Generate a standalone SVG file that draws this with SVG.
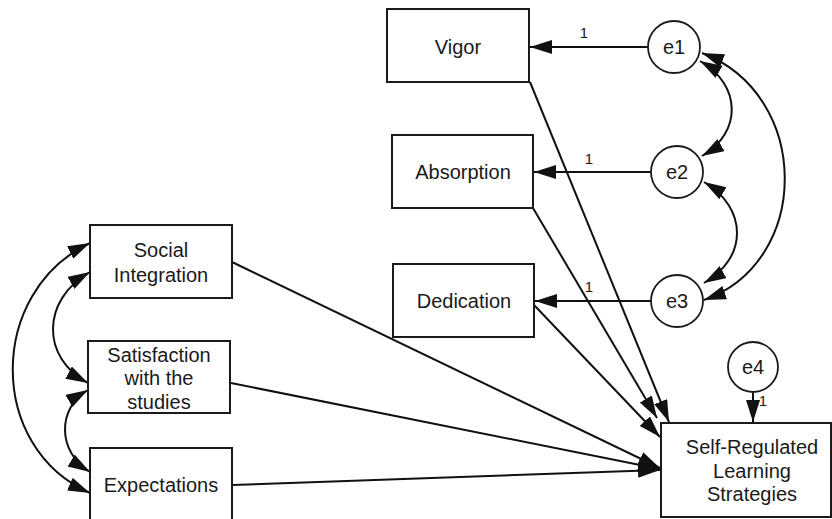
<svg xmlns="http://www.w3.org/2000/svg" width="832" height="519" viewBox="0 0 832 519">
<style>
.box{fill:#fff;stroke:#1a1a1a;stroke-width:2}
.circ{fill:#fff;stroke:#1a1a1a;stroke-width:1.8}
.t{font-family:"Liberation Sans",Arial,sans-serif;font-size:20px;fill:#1a1a1a;text-anchor:middle}
.lbl{font-family:"Liberation Sans",Arial,sans-serif;font-size:15px;fill:#1a1a1a;text-anchor:middle}
.c{fill:none;stroke:#111;stroke-width:2}
</style>
<defs>
<marker id="ah" markerUnits="userSpaceOnUse" markerWidth="24" markerHeight="16" refX="22" refY="7" orient="auto-start-reverse" viewBox="0 0 24 16">
<path d="M0,0 L22,7 L0,14 z" fill="#111"/>
</marker>
</defs>
<rect width="832" height="519" fill="#fff"/>
<g id="connectors">
<line class="c" x1="648" y1="47" x2="530" y2="47" marker-end="url(#ah)"/>
<line class="c" x1="651" y1="172" x2="534" y2="172" marker-end="url(#ah)"/>
<line class="c" x1="651" y1="301" x2="535" y2="301" marker-end="url(#ah)"/>
<line class="c" x1="753" y1="393" x2="753" y2="422" marker-end="url(#ah)"/>
<line class="c" x1="530" y1="82" x2="669" y2="422" marker-end="url(#ah)"/>
<line class="c" x1="533" y1="208" x2="657" y2="418" marker-end="url(#ah)"/>
<line class="c" x1="534" y1="305" x2="660" y2="437" marker-end="url(#ah)"/>
<line class="c" x1="232" y1="262" x2="660" y2="468" marker-end="url(#ah)"/>
<line class="c" x1="231" y1="383" x2="660" y2="469" marker-end="url(#ah)"/>
<line class="c" x1="232" y1="485" x2="660" y2="470" marker-end="url(#ah)"/>
<path class="c" d="M700,61 C742,85 742,133 702,156" marker-start="url(#ah)" marker-end="url(#ah)"/>
<path class="c" d="M704,182 C748,208 748,258 704,283" marker-start="url(#ah)" marker-end="url(#ah)"/>
<path class="c" d="M702,53 C812,95 812,262 704,300" marker-start="url(#ah)" marker-end="url(#ah)"/>
<path class="c" d="M90,243 C-13,292 -13,448 90,493" marker-start="url(#ah)" marker-end="url(#ah)"/>
<path class="c" d="M90,272 C41,300 41,358 88,383" marker-start="url(#ah)" marker-end="url(#ah)"/>
<path class="c" d="M88,390 C57,408 57,452 90,472" marker-start="url(#ah)" marker-end="url(#ah)"/>
<text class="lbl" x="584" y="38">1</text>
<text class="lbl" x="589" y="164">1</text>
<text class="lbl" x="589" y="292">1</text>
<text class="lbl" x="763" y="406">1</text>
</g>
<g id="vigor"><rect class="box" x="387" y="9" width="142" height="73"/><text class="t" x="458" y="54">Vigor</text></g>
<g id="absorption"><rect class="box" x="392" y="135" width="141" height="73"/><text class="t" x="463" y="179">Absorption</text></g>
<g id="dedication"><rect class="box" x="393" y="264" width="141" height="73"/><text class="t" x="464" y="308">Dedication</text></g>
<g id="social"><rect class="box" x="90" y="225" width="142" height="73"/><text class="t" x="161" y="257">Social</text><text class="t" x="161" y="282">Integration</text></g>
<g id="satisfaction"><rect class="box" x="88" y="341" width="142" height="72"/><text class="t" x="159" y="362">Satisfaction</text><text class="t" x="159" y="385">with the</text><text class="t" x="159" y="409">studies</text></g>
<g id="expectations"><rect class="box" x="90" y="448" width="142" height="75"/><text class="t" x="161" y="492">Expectations</text></g>
<g id="srl"><rect class="box" x="661" y="423" width="170" height="94"/><text class="t" x="752" y="454">Self-Regulated</text><text class="t" x="752" y="478">Learning</text><text class="t" x="752" y="501">Strategies</text></g>
<g id="e1"><circle class="circ" cx="674" cy="47" r="26"/><text class="t" x="674" y="54">e1</text></g>
<g id="e2"><circle class="circ" cx="677" cy="172" r="26"/><text class="t" x="677" y="179">e2</text></g>
<g id="e3"><circle class="circ" cx="677" cy="301" r="26"/><text class="t" x="677" y="308">e3</text></g>
<g id="e4"><circle class="circ" cx="753" cy="367" r="25"/><text class="t" x="753" y="374">e4</text></g>
</svg>
